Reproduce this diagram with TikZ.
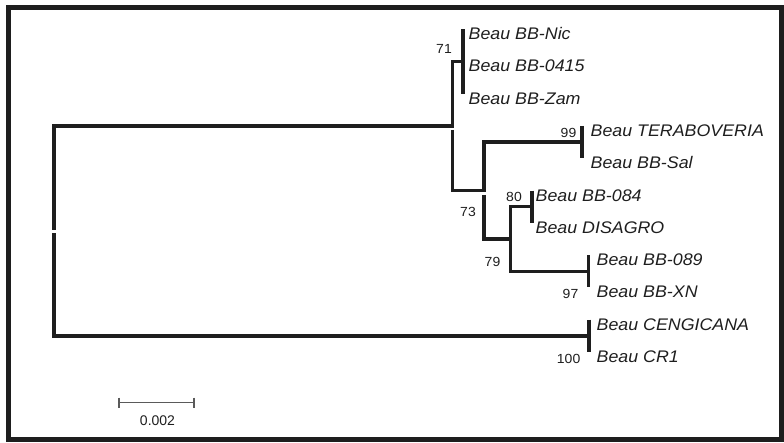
\documentclass[tikz,border=0pt]{standalone}
\usepackage{fontspec}
\setmainfont{Liberation Sans}
\usepackage{graphicx}
\definecolor{ink}{HTML}{1E1E1E}
\definecolor{scalegray}{HTML}{5A5A5A}
% slightly widened lettering
\newcommand{\widetext}[1]{\scalebox{1.06}[1]{#1}}

\begin{document}
\begin{tikzpicture}[x=1pt,y=-1pt,
  branch/.style={draw=ink,line width=3.2pt,line join=miter},
  tipbar/.style={draw=ink,line width=3.2pt},
  leaf/.style={anchor=base west,inner sep=0pt,text=ink,
    font=\fontsize{16.8}{18}\selectfont\itshape},
  boot/.style={anchor=base east,inner sep=0pt,text=ink,
    font=\fontsize{13.2}{15}\selectfont},
  scalebar/.style={draw=scalegray,line width=1.4pt},
]
\useasboundingbox (0,0) rectangle (784,442);
\draw[ink,line width=5pt] (8.5,7) rectangle (781,439.5);

% internal nodes
\coordinate (R)    at (54,229.5);
\coordinate (A)    at (452.5,125.9);
\coordinate (C71)  at (463,61.3);
\coordinate (B)    at (484,190.8);
\coordinate (T99)  at (582,142);
\coordinate (D)    at (510.5,239);
\coordinate (T80)  at (532,206.6);
\coordinate (T97)  at (588.5,271.2);
\coordinate (T100) at (589,335.9);

% tip ends
\coordinate (tNic)  at (463,29);
\coordinate (tZam)  at (463,93.6);
\coordinate (tTera) at (582,125.9);
\coordinate (tSal)  at (582,158.2);
\coordinate (t084)  at (532,190.5);
\coordinate (tDis)  at (532,222.8);
\coordinate (t089)  at (588.5,255.1);
\coordinate (tXN)   at (588.5,287.4);
\coordinate (tCen)  at (589,319.7);
\coordinate (tCR)   at (589,352);

% branches
\draw[branch] (R) |- (A) |- (C71);
\draw[branch] ([yshift=-4pt]A) |- (B) |- (T99);
\draw[branch] ([yshift=-4pt]B) |- (D) |- (T80);
\draw[branch] (D) |- (T97);
\draw[branch] ([yshift=-3.5pt]R) |- (T100);

% terminal bars
\draw[tipbar] (tNic) -- (tZam);
\draw[tipbar] (tTera) -- (tSal);
\draw[tipbar] (t084) -- (tDis);
\draw[tipbar] (t089) -- (tXN);
\draw[tipbar] (tCen) -- (tCR);

% taxon names
\node[leaf] (nNic)  at (468.5,39.5)  {\widetext{Beau BB-Nic}};
\node[leaf] (n0415) at (468.5,71.8)  {\widetext{Beau BB-0415}};
\node[leaf] (nZam)  at (468.5,104.1) {\widetext{Beau BB-Zam}};
\node[leaf] (nTera) at (590.5,136.4) {\widetext{Beau TERABOVERIA}};
\node[leaf] (nSal)  at (590.5,168.7) {\widetext{Beau BB-Sal}};
\node[leaf] (n084)  at (535.5,201)   {\widetext{Beau BB-084}};
\node[leaf] (nDis)  at (535.5,233.3) {\widetext{Beau DISAGRO}};
\node[leaf] (n089)  at (596.5,265.6) {\widetext{Beau BB-089}};
\node[leaf] (nXN)   at (596.5,297.9) {\widetext{Beau BB-XN}};
\node[leaf] (nCen)  at (596.5,330.2) {\widetext{Beau CENGICANA}};
\node[leaf] (nCR)   at (596.5,362)   {\widetext{Beau CR1}};

% bootstrap values
\node[boot] (b71)  at (452,53)  {\widetext{71}};
\node[boot] (b99)  at (576.5,137) {\widetext{99}};
\node[boot] (b80)  at (522,201) {\widetext{80}};
\node[boot] (b73)  at (476,216) {\widetext{73}};
\node[boot] (b79)  at (500.5,266) {\widetext{79}};
\node[boot] (b97)  at (578.5,298) {\widetext{97}};
\node[boot] (b100) at (580.5,363.3) {\widetext{100}};

% scale bar
\coordinate (sL) at (119,402.7);
\coordinate (sR) at (194,402.7);
\draw[scalebar] (sL) -- (sR);
\draw[scalebar] ([yshift=5pt]sL) -- ([yshift=-5pt]sL);
\draw[scalebar] ([yshift=5pt]sR) -- ([yshift=-5pt]sR);
\node[anchor=base,inner sep=0pt,text=ink,font=\fontsize{14}{16}\selectfont]
  (sLab) at (157.5,425) {0.002};
\end{tikzpicture}
\end{document}
